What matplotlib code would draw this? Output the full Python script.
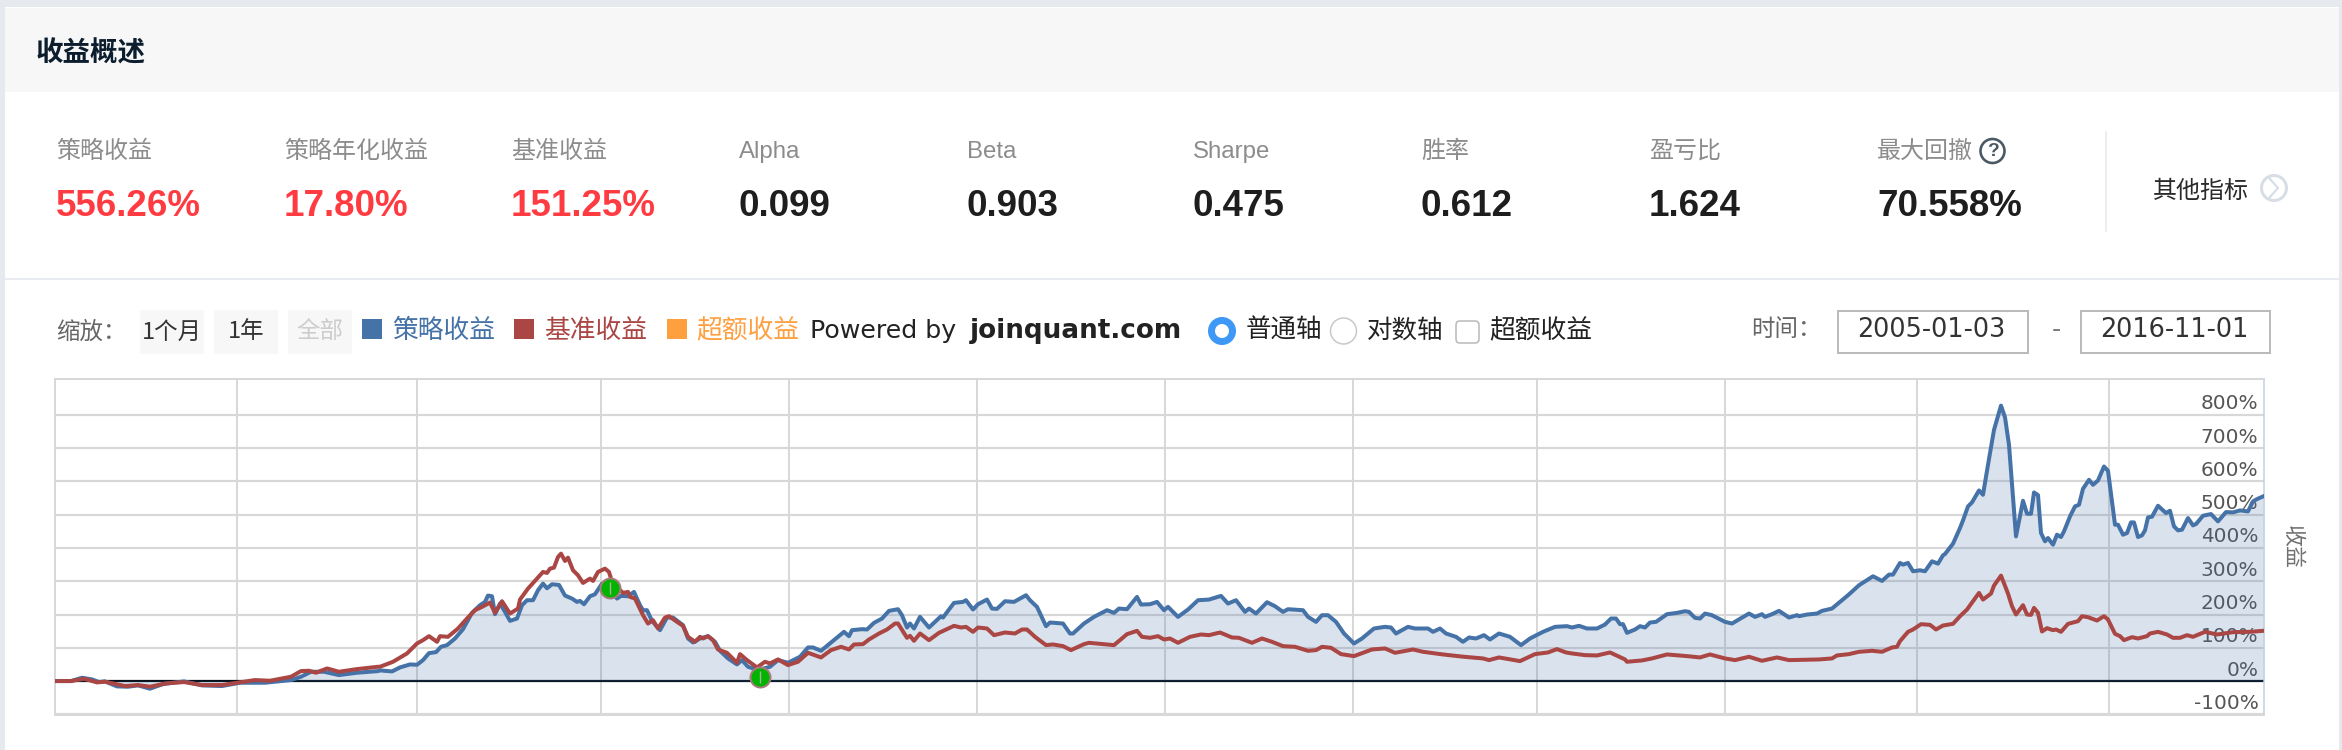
import numpy as np
import matplotlib
matplotlib.use("Agg")
import matplotlib.pyplot as plt
from matplotlib.patches import Rectangle, Circle, FancyBboxPatch
from matplotlib.lines import Line2D
from matplotlib.transforms import Affine2D, ScaledTranslation

plt.rcParams['font.family'] = ['Noto Sans CJK SC', 'DejaVu Sans']

# ---------- data: (trading-session position, cumulative return %) ----------
strategy_points = [
 (0,0),(16,0),(27,10),(37,5),(44,-3),(50,-1),(62,-16),(73,-17),(83,-13),(95,-23),(108,-9),(129,-1),(147,-13),
 (167,-15),(185,-5),(210,-5),(236,3),(246,13),(256,28),(269,28),(284,18),(302,25),(323,30),
 (325,32),(337,29),(345,41),(355,50),(362,49),(368,63),(374,84),(381,87),(386,103),(392,108),(400,128),(408,156),
 (417,205),(425,228),(430,238),(433,257),(437,255),(440,201),(445,233),(450,208),(455,181),(462,188),(467,228),
 (472,243),(478,243),(483,273),(488,293),(492,279),(497,291),(504,289),(510,257),(517,248),(522,238),(525,241),
 (529,231),(535,255),(540,261),(547,293),(555,278),(562,248),(566,256),(573,255),(579,268),(585,228),(588,213),
 (592,213),(597,181),(605,153),(612,191),(618,191),(628,168),(633,128),(638,116),(645,128),(653,135),(660,118),
 (665,91),(673,68),(682,50),(687,63),(693,43),(703,33),(715,43),(723,63),(733,55),(745,73),
 (753,101),(758,101),(766,91),(779,123),(789,148),(794,135),(797,153),(807,156),(812,155),(819,175),(827,188),
 (834,211),(843,216),(847,198),(852,161),(855,173),(859,158),(865,193),(874,161),(886,195),(888,191),(899,235),
 (908,238),(911,243),(918,215),(923,231),(932,245),(937,218),(942,217),(950,240),(959,238),(971,258),(975,243),
 (982,223),(991,165),(995,176),(1008,173),(1015,143),(1018,143),(1029,173),(1039,193),(1052,213),(1059,205),
 (1064,218),(1072,216),(1082,253),(1086,230),(1095,231),(1102,238),(1109,213),(1113,223),(1123,193),(1133,215),
 (1143,243),(1154,245),(1166,256),(1173,233),(1181,243),(1190,208),(1194,218),(1201,203),(1212,237),(1220,225),
 (1228,208),(1233,216),(1248,213),(1253,193),(1261,178),(1267,198),(1273,198),(1281,178),(1289,143),(1299,113),
 (1307,128),(1319,158),(1330,163),(1336,161),(1341,143),(1353,163),(1360,158),(1373,158),(1378,148),(1385,158),
 (1391,143),(1401,133),(1408,118),(1414,131),(1421,128),(1429,138),(1435,125),(1444,143),(1455,133),(1466,108),
 (1475,128),(1488,148),(1500,163),(1512,165),(1517,161),(1524,166),(1532,158),(1542,158),(1550,170),(1556,188),
 (1561,188),(1565,171),(1568,171),(1572,145),(1580,155),(1585,165),(1590,161),(1595,176),(1601,178),(1612,201),
 (1622,205),(1630,210),(1634,208),(1640,190),(1645,188),(1650,203),(1657,198),(1670,178),(1677,173),(1694,203),
 (1700,193),(1707,201),(1710,193),(1717,201),(1724,211),(1734,191),(1742,198),(1744,195),(1752,200),(1762,203),
 (1767,211),(1777,218),(1793,258),(1804,288),(1818,315),(1827,301),(1834,320),(1838,320),
 (1845,355),(1848,350),(1853,355),(1858,330),(1865,333),(1870,330),(1877,360),(1883,353),(1888,378),(1890,382),
 (1898,413),(1905,460),(1908,483),(1913,525),(1917,537),(1924,573),(1928,560),(1933,650),(1939,755),(1946,828),
 (1950,793),(1954,710),(1961,435),(1968,542),(1972,503),(1976,503),(1979,567),(1983,559),(1986,445),(1990,420),
 (1993,430),(1998,410),(2002,440),(2006,433),(2009,450),(2015,495),(2020,525),(2024,530),(2028,578),(2034,605),
 (2038,590),(2043,603),(2049,645),(2053,632),(2060,470),(2063,470),(2068,440),(2072,445),(2076,477),(2079,477),
 (2083,433),(2087,438),(2090,453),(2093,492),(2097,494),(2103,527),(2111,505),(2115,512),(2119,465),(2123,453),
 (2127,455),(2133,490),(2138,468),(2141,472),(2148,497),(2156,502),(2163,480),(2171,508),(2178,507),(2185,513),
 (2193,510),(2198,540),(2202,547),(2209,556.26),
]
benchmark_points = [
 (0,0),(16,0),(29,7),(42,-4),(50,-2),(70,-15),(83,-12),(95,-17),(111,-7),(129,-3),(147,-12),(167,-12),(185,-4),
 (200,3),(215,1),(236,13),(246,30),(254,31),(261,25),(272,38),(284,28),(302,36),(323,43),
 (325,43),(338,58),(352,83),(362,113),(368,123),(374,135),(382,118),(385,135),(393,133),(403,158),(412,188),
 (420,213),(427,223),(435,236),(440,205),(447,240),(455,203),(463,218),(465,245),(473,278),(482,308),(488,328),
 (492,325),(495,338),(499,341),(503,373),(506,383),(510,361),(513,371),(518,333),(523,318),(528,295),(535,308),
 (538,301),(543,328),(550,338),(554,328),(557,298),(568,265),(573,268),(575,253),(580,248),(588,198),(593,173),
 (598,183),(603,158),(610,191),(614,195),(622,178),(628,166),(633,133),(640,118),(645,133),(648,128),(653,135),
 (658,123),(663,95),(672,85),(682,55),(685,81),(692,63),(702,41),(710,58),(715,53),(723,65),(733,48),(743,58),
 (753,85),(766,71),(776,93),(786,103),(794,95),(799,110),(808,111),(814,125),(824,143),(832,155),(840,173),
 (843,173),(852,130),(855,136),(859,121),(865,143),(874,123),(884,145),(899,166),(906,161),(911,163),(918,148),
 (923,161),(932,158),(939,138),(950,146),(960,143),(967,155),(972,155),(980,133),(991,108),(998,110),(1008,105),
 (1016,93),(1029,111),(1034,115),(1049,111),(1059,108),(1072,141),(1082,151),(1087,133),(1095,130),(1103,135),
 (1109,125),(1115,128),(1123,115),(1135,133),(1146,140),(1154,138),(1165,146),(1177,131),(1184,130),(1197,115),
 (1207,128),(1217,118),(1228,105),(1240,103),(1253,91),(1261,93),(1267,103),(1276,100),(1286,81),(1299,75),
 (1317,95),(1330,98),(1340,85),(1358,95),(1368,88),(1388,80),(1409,73),(1428,68),(1434,63),(1444,71),(1465,60),
 (1480,81),(1493,86),(1502,96),(1511,86),(1517,83),(1530,78),(1542,77),(1555,86),(1570,65),(1572,58),(1587,62),
 (1597,68),(1612,80),(1632,75),(1645,71),(1655,80),(1670,68),(1680,63),(1694,73),(1707,61),(1722,71),(1734,63),
 (1764,65),(1777,68),(1782,77),(1794,81),(1804,88),(1817,91),(1827,88),(1837,101),(1842,103),
 (1845,120),(1853,148),(1858,155),(1866,171),(1875,169),(1881,155),(1888,167),(1898,172),(1905,195),(1912,215),
 (1924,265),(1928,245),(1936,263),(1939,287),(1946,317),(1953,263),(1957,225),(1961,200),(1968,228),(1972,200),
 (1976,199),(1979,220),(1983,205),(1987,149),(1992,159),(1998,153),(2001,155),(2006,148),(2013,172),(2023,180),
 (2027,195),(2033,192),(2042,182),(2049,195),(2053,185),(2060,142),(2065,135),(2069,123),(2077,132),(2083,128),
 (2092,135),(2095,143),(2103,148),(2112,140),(2118,130),(2125,130),(2132,138),(2138,133),(2150,148),(2162,140),
 (2178,147),(2195,148),(2209,151.25),
]
drawdown_points = [(555, 280), (705, 12)]
year_sessions = [182, 362, 546, 734, 922, 1110, 1298, 1482, 1670, 1862, 2054]
y_ticks = [-100, 0, 100, 200, 300, 400, 500, 600, 700, 800]
y_labels = ['-100%', '0%', '100%', '200%', '300%', '400%', '500%', '600%', '700%', '800%']
metric_names = ['策略收益', '策略年化收益', '基准收益', 'Alpha', 'Beta', 'Sharpe', '胜率', '盈亏比', '最大回撤']
metric_values = ['556.26%', '17.80%', '151.25%', '0.099', '0.903', '0.475', '0.612', '1.624', '70.558%']

W, H = 2342, 750
fig = plt.figure(figsize=(W / 100, H / 100), dpi=100, facecolor='white')
px = Affine2D().scale(1, -1).translate(0, H)
PT = 0.72


def rect(x0, y0, x1, y1, fc='none', ec='none', lw=0):
    fig.add_artist(Rectangle((x0, y0), x1 - x0, y1 - y0, transform=px, facecolor=fc,
                             edgecolor=ec, linewidth=lw * PT))


def text(x, y, s, size, color='#333333', ha='left', va='center', **kw):
    fig.text(x, y, s, transform=px, fontsize=size * PT, color=color, ha=ha, va=va, **kw)


# page frame
rect(0, 0, W, 7, fc='#e6e9ee')
rect(0, 0, 5, H, fc='#e6e9ee')
rect(2339, 0, W, H, fc='#e6e9ee')
rect(5, 8, 2339, 92, fc='#f7f7f7')
rect(5, 278, 2339, 280, fc='#e8ebf0')
text(36, 53, '收益概述', 27.5, color='#0c1d2e', fontweight='bold')

# metric row
metric_x = [56, 284, 511, 739, 967, 1193, 1421, 1649, 1877]
LAT = ['Liberation Sans', 'Noto Sans CJK SC']
for i, (n, v) in enumerate(zip(metric_names, metric_values)):
    text(metric_x[i], 152, n, 24, color='#8c8c8c', family=LAT)
    text(metric_x[i], 206, v, 36.8, color='#ff3b42' if i < 3 else '#1e1e1e',
         fontweight='bold', family=['Liberation Sans'])
fig.add_artist(Circle((1992.5, 151), 12, transform=px, fc='white', ec='#4a5864', lw=2.6 * PT))
text(1992.5, 152, '?', 19, color='#4a5864', ha='center', family=['Liberation Sans'], fontweight='bold')
fig.add_artist(Line2D([2106, 2106], [132, 231], transform=px, color='#e8e8e8', lw=1.5 * PT))
text(2153, 191, '其他指标', 24, color='#2a2a2a')
fig.add_artist(Circle((2274, 188), 12.5, transform=px, fc='white', ec='#d8dee6', lw=3 * PT))
fig.add_artist(Line2D([2270, 2278, 2270], [179, 188, 197], transform=px, color='#d8dee6', lw=2.2 * PT))

# control row
text(56, 332, '缩放：', 23.5, color='#666666')
for (x0, x1, s, c) in [(140, 204, '1个月', '#333333'), (214, 278, '1年', '#333333'), (288, 352, '全部', '#cccccc')]:
    rect(x0, 310, x1, 354, fc='#f7f7f7')
    text((x0 + x1) / 2, 332, s, 23.5, color=c, ha='center')
for (x0, lx, s, c) in [(362, 392, '策略收益', '#4572A7'), (514, 544, '基准收益', '#AA4643'), (667, 696, '超额收益', '#FFA040')]:
    rect(x0, 319, x0 + 20, 339, fc=c)
    text(lx, 331, s, 25.8, color=c)
text(810, 331, 'Powered by', 25.3, color='#222222', family=['DejaVu Sans'])
text(970, 331, 'joinquant.com', 26.2, color='#222222', fontweight='bold', family=['DejaVu Sans'])
fig.add_artist(Circle((1222, 331), 10.5, transform=px, fc='white', ec='#3e98f5', lw=7 * PT))
text(1246, 331, '普通轴', 25.5, color='#222222')
fig.add_artist(Circle((1343.5, 331), 13, transform=px, fc='white', ec='#c8c8c8', lw=1.5 * PT))
text(1367, 331, '对数轴', 25.5, color='#222222')
fig.add_artist(FancyBboxPatch((1458, 323), 19, 18, boxstyle='round,pad=2,rounding_size=4', transform=px,
                              fc='white', ec='#b8b8b8', lw=1.5 * PT))
text(1489, 331, '超额收益', 25.8, color='#222222')
text(1751, 330, '时间：', 23.5, color='#666666')
for (x0, x1, s) in [(1838, 2028, '2005-01-03'), (2081, 2270, '2016-11-01')]:
    rect(x0, 311, x1, 353, fc='white', ec='#bbbbbb', lw=2)
    text(x0 + 19, 330, s, 25.5, color='#333333', ha='left', family=['DejaVu Sans'])
text(2056, 330, '-', 25, color='#777777', ha='center', family=['DejaVu Sans'])

# chart
ax = fig.add_axes([55 / W, (H - 715) / H, (2264 - 55) / W, (715 - 379) / H])
sx, sy = np.array(strategy_points, dtype=float).T
bx, by = np.array(benchmark_points, dtype=float).T
ax.set_xlim(0, 2209)
ax.set_ylim(-102, 908)
ax.set_xticks(year_sessions)
ax.set_yticks(y_ticks)
ax.set_yticklabels(y_labels)
ax.yaxis.tick_right()
ax.tick_params(axis='x', length=0, labelbottom=False)
ax.tick_params(axis='y', length=0, pad=-4, labelsize=20 * PT, labelcolor='#555555')
for lab in ax.get_yticklabels():
    lab.set_ha('right')
    lab.set_family(['DejaVu Sans'])
    lab.set_transform(lab.get_transform() + ScaledTranslation(0, 13 / 100, fig.dpi_scale_trans))
ax.set_axisbelow(True)
ax.grid(axis='y', color='#d8d8d8', lw=2.2 * PT)
ax.grid(axis='x', color='#d4d4d4', lw=1.8 * PT)
for side in ['top', 'bottom', 'left']:
    ax.spines[side].set_color('#d8d8d8')
    ax.spines[side].set_linewidth(2 * PT)
ax.spines['right'].set_color('#c0d0e0')
ax.spines['right'].set_linewidth(1.5 * PT)
ax.axhline(0, color='#05101a', lw=2.2 * PT, zorder=2)
ax.fill_between(sx, sy, 0, color='#4572A7', alpha=0.2, lw=0, zorder=2.5)
ax.plot(sx, sy, color='#4572A7', lw=4 * PT, zorder=3, solid_joinstyle='round')
ax.plot(bx, by, color='#AA4643', lw=4 * PT, zorder=4, solid_joinstyle='round')
dx, dy = zip(*drawdown_points)
ax.scatter(dx, dy, s=(20 * PT) ** 2, facecolor='#00b400', edgecolor='#a67c7c', linewidth=2 * PT, zorder=5,
           clip_on=False)
ax.scatter(dx, dy, marker='|', s=(12 * PT) ** 2, color='#a8b098', linewidth=1.4 * PT, zorder=6)
text(2292, 547, '收益', 22, color='#707070', ha='center', rotation=270)

fig.savefig('out.png', dpi=100, facecolor='white')
